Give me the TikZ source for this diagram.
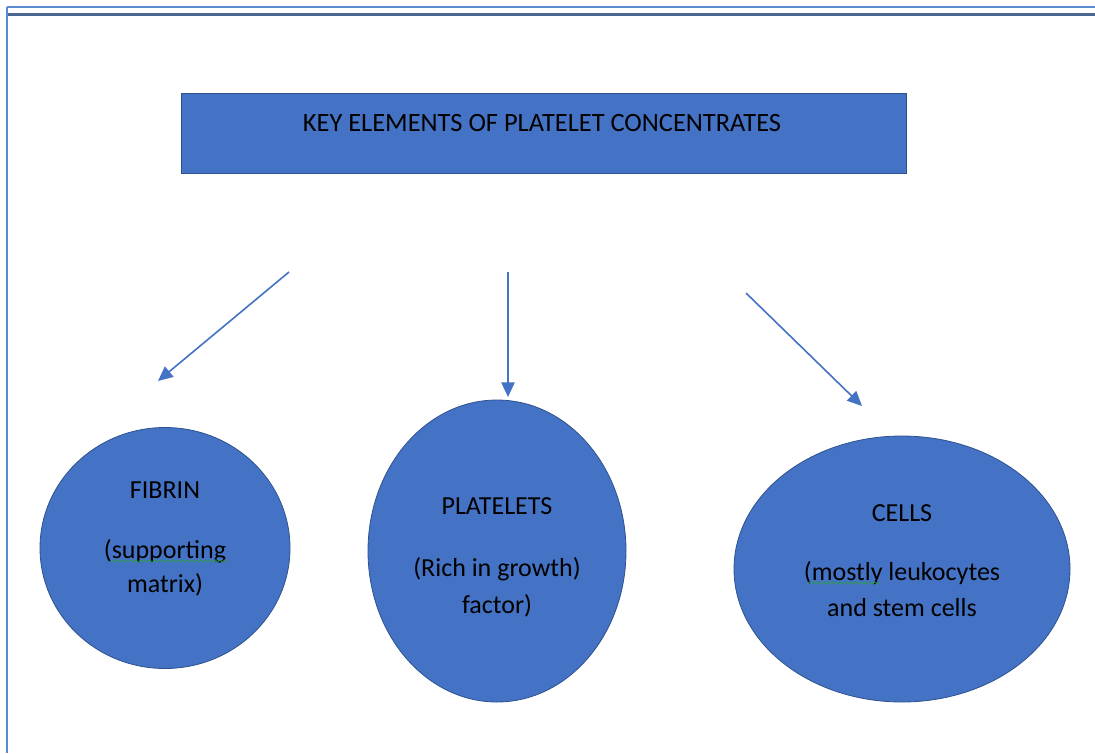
\documentclass[tikz,border=0pt]{standalone}
\usepackage{fontspec}
\setmainfont{Carlito}
\usetikzlibrary{arrows.meta,shapes.geometric,decorations.pathmorphing}
\definecolor{wordblue}{HTML}{4472C4}
\definecolor{wordedge}{HTML}{2F528F}
\definecolor{frameblue}{HTML}{5B8BD0}
\definecolor{framedark}{HTML}{4A6794}
\definecolor{spellgreen}{HTML}{2EA043}

\begin{document}
\begin{tikzpicture}[x=0.75pt,y=-0.75pt,>={Triangle[length=11pt,width=10pt]},
  element/.style={ellipse, fill=wordblue, draw=wordedge, line width=0.6pt, inner sep=0pt},
  elementtext/.style={align=center, inner sep=0pt, font=\fontsize{19.5}{25.5}\selectfont},
  pointer/.style={->, draw=wordblue, fill=wordblue, line width=1.2pt},
  squiggly/.style={spellgreen, line width=0.5pt, decorate, decoration={snake, amplitude=0.9pt, segment length=3.5pt}}]
\useasboundingbox (0,0) rectangle (1095,753);
% page frame
\draw[frameblue, line width=1.6pt] (7,7) -- (1095,7);
\draw[framedark, line width=1.6pt] (8,14.5) -- (1095,14.5);
\draw[frameblue, line width=1.6pt] (7,7) -- (7,753);

% title box
\node (title) [rectangle, fill=wordblue, draw=wordedge, line width=0.6pt, minimum width=543.75pt, minimum height=60pt] at (543.5,133) {};
\node (titletext) at (542,123) {\fontsize{19.8}{24}\selectfont KEY ELEMENTS OF PLATELET CONCENTRATES};

% three elements
\node (fibrin) [element, minimum width=187.5pt, minimum height=180.75pt] at (165,548) {};
\node (platelets) [element, minimum width=193.5pt, minimum height=226.5pt] at (497,551) {};
\node (cells) [element, minimum width=252pt, minimum height=199.5pt] at (902,569) {};
\node (fibrintext) [elementtext] at ([yshift=6.75pt]fibrin.center) {FIBRIN\\[19.5pt](supporting\\matrix)};
\node (plateletstext) [elementtext] at ([yshift=-4.9pt]platelets.center) {PLATELETS\\[21pt](Rich in growth)\\[2.5pt]factor)};
\node (cellstext) [elementtext] at ([yshift=6.4pt]cells.center) {CELLS\\[19pt](mostly leukocytes\\[1.5pt]and stem cells};

% arrows
\coordinate (fibrintail) at (289,272);
\coordinate (fibrinhead) at (158,381);
\coordinate (plateletstail) at (508,272);
\coordinate (plateletshead) at (508,397);
\coordinate (cellstail) at (746,293);
\coordinate (cellshead) at (862,406);
\draw[pointer] (fibrintail) -- (fibrinhead);
\draw[pointer] (plateletstail) -- (plateletshead);
\draw[pointer] (cellstail) -- (cellshead);

% spell check marks
\draw[squiggly] (111,561) -- (228,561);
\draw[squiggly] (808,583) -- (880,583);
\end{tikzpicture}
\end{document}
